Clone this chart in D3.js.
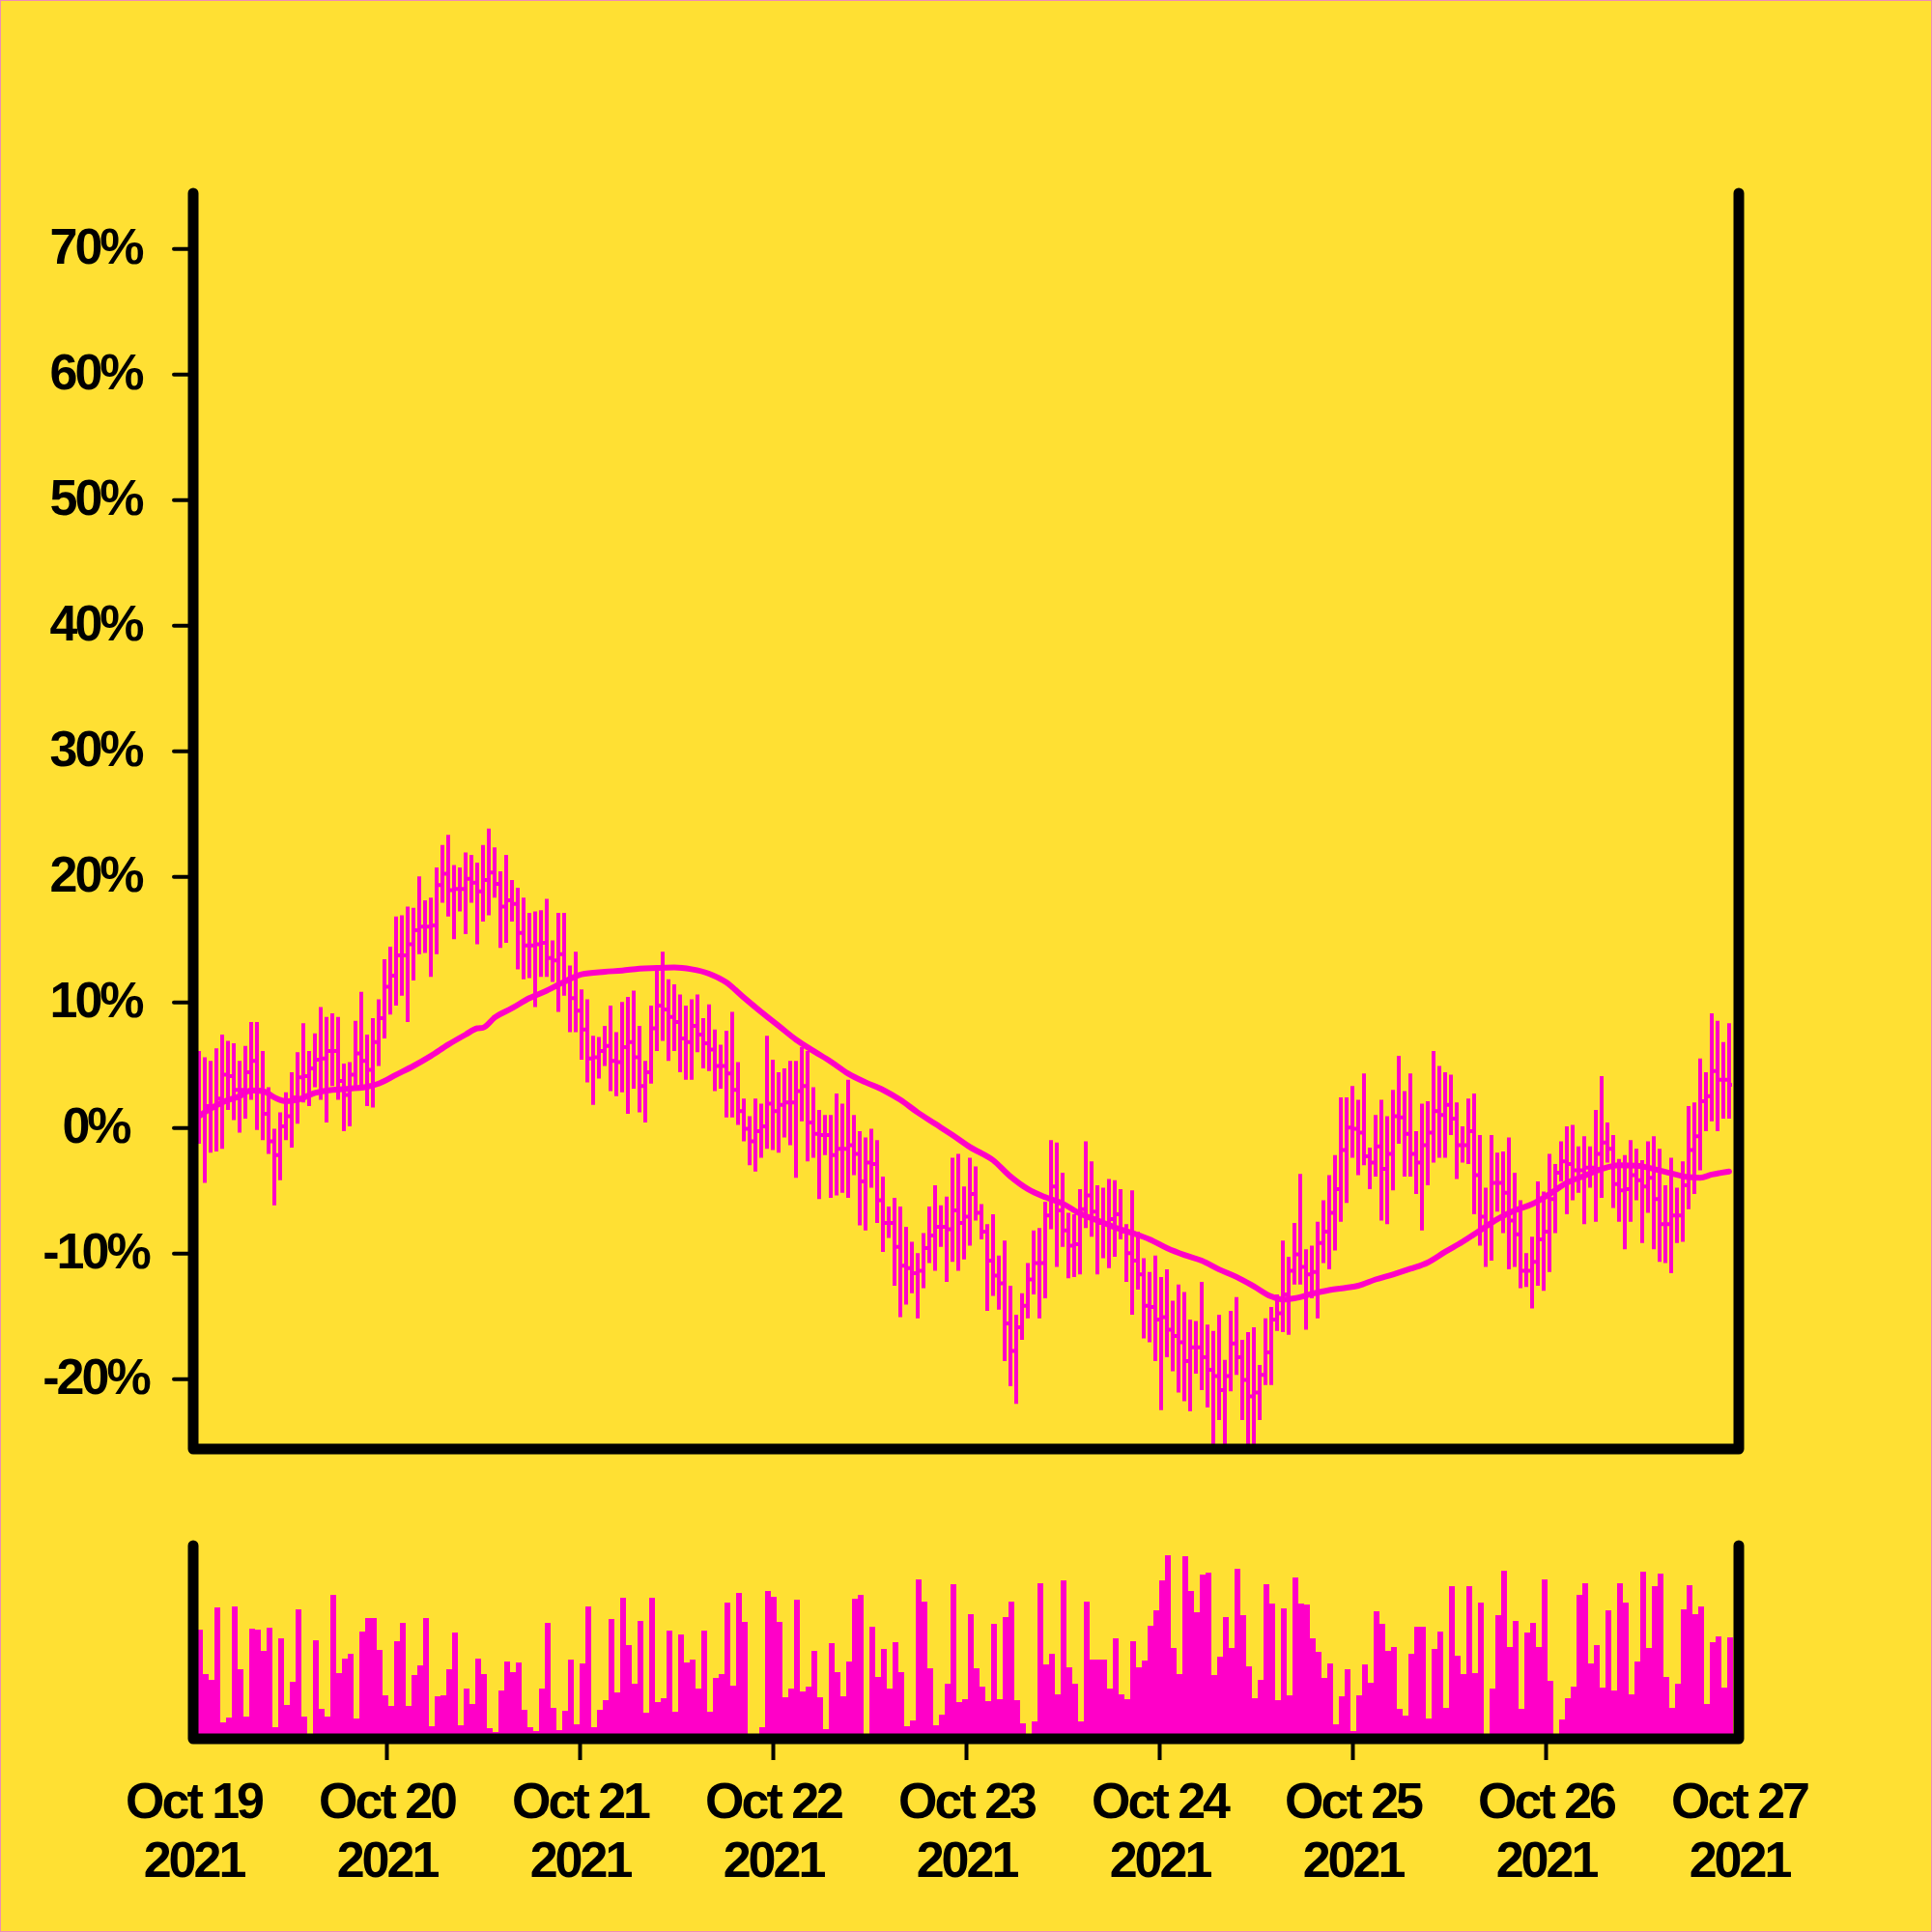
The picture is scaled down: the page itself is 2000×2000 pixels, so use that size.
<!DOCTYPE html>
<html><head><meta charset="utf-8">
<script src="https://cdn.jsdelivr.net/npm/d3@7"></script>
<style>html,body{margin:0;padding:0;background:#FFE033;} svg{display:block}</style>
</head><body>
<svg id="chart" width="2000" height="2000"></svg>
<script>
// ---- DATA (percent change, hourly-ish bars) ----
const high = [
6.1,5.6,5.3,6.3,7.4,6.9,6.7,5.3,6.5,8.4,
8.4,6.1,3.2,-0.1,1.2,2.8,4.4,6.0,8.3,6.1,
7.5,9.6,8.8,9.1,8.8,5.1,5.2,8.5,10.8,7.4,
8.7,10.2,13.4,14.4,16.8,16.9,17.6,17.5,20.0,18.1,
18.3,20.7,22.5,23.3,20.9,20.7,21.9,21.7,21.1,22.5,
23.8,22.3,20.4,21.7,19.7,19.1,18.3,17.1,17.2,17.3,
18.2,14.9,17.1,17.1,12.9,14.0,11.0,10.2,7.3,7.2,
8.1,9.7,7.6,10.0,10.4,10.9,8.1,5.3,9.7,12.5,
14.0,11.8,11.4,10.6,9.7,10.2,10.6,8.7,9.8,7.8,
6.6,7.7,9.2,5.2,2.3,0.9,2.3,1.9,7.3,5.4,
4.4,4.7,5.3,5.3,6.4,6.1,3.2,1.4,1.0,1.0,
2.7,1.9,3.8,1.0,-0.3,-0.8,-0.1,-1.0,-3.9,-6.3,
-5.6,-6.3,-7.9,-9.1,-10.0,-8.4,-6.3,-4.6,-6.2,-5.5,
-2.4,-2.1,-4.7,-2.4,-3.1,-6.1,-7.7,-6.9,-10.2,-9.0,
-12.6,-14.9,-13.2,-10.8,-8.2,-8.0,-5.9,-1.0,-1.2,-3.6,
-6.8,-6.9,-4.9,-1.1,-2.7,-4.6,-4.8,-4.1,-4.2,-4.9,
-7.7,-5.0,-8.3,-10.4,-11.5,-10.2,-11.9,-11.3,-13.8,-12.5,
-13.1,-15.3,-15.4,-12.3,-15.7,-16.2,-14.9,-18.5,-14.6,-13.5,
-16.9,-16.3,-15.9,-18.9,-15.2,-14.3,-13.3,-9.0,-10.3,-7.6,
-3.7,-9.7,-9.4,-7.5,-5.8,-3.8,-2.2,2.4,2.4,3.3,
2.2,4.3,-1.6,1.0,2.2,0.9,3.0,5.7,2.9,4.3,
-0.3,1.9,2.1,6.1,4.9,4.4,4.2,2.0,0.1,2.3,
2.7,-0.6,-4.8,-0.6,-2.0,-1.9,-0.8,-3.6,-5.8,-10.0,
-8.7,-4.3,-5.1,-2.1,-2.9,-1.1,0.1,0.2,-1.5,-0.7,
-1.5,1.4,4.1,0.4,-0.6,-2.5,-2.2,-1.0,-1.7,-2.6,
-1.1,-0.7,-1.7,-4.6,-2.4,-4.8,-2.7,1.7,2.0,5.5,
4.4,9.1,8.5,6.8,8.3];

const low = [
-1.3,-4.4,-2.0,-1.9,-1.7,1.4,0.6,-0.4,0.7,2.2,
-0.2,-1.0,-2.1,-6.2,-4.2,-1.0,-1.6,0.3,2.0,1.7,
3.2,2.2,0.4,3.3,2.2,-0.3,0.1,3.2,3.2,1.7,
1.6,4.9,7.1,9.0,9.7,10.5,8.4,11.7,13.8,13.9,
12.0,13.8,17.9,16.8,15.0,17.2,15.4,17.9,14.6,16.4,
16.9,18.3,14.3,14.7,16.4,12.6,11.8,11.9,9.6,12.0,
12.0,11.6,9.2,10.5,7.6,7.6,5.4,3.6,1.8,3.9,
4.9,2.9,2.5,2.8,1.1,3.1,1.2,0.4,3.5,6.1,
6.9,5.3,6.1,4.4,3.8,3.8,6.0,4.7,4.5,2.9,
3.1,0.8,0.8,0.2,-1.1,-3.0,-3.5,-2.4,-1.7,-1.8,
-2.0,-0.8,-1.4,-4.0,0.5,-2.7,-2.4,-5.7,-2.2,-5.6,
-5.4,-5.2,-5.6,-3.8,-7.8,-8.2,-4.8,-7.6,-9.9,-8.8,
-12.6,-15.1,-14.1,-13.2,-15.2,-12.8,-10.8,-11.4,-9.5,-12.3,
-10.7,-11.4,-10.5,-9.4,-7.4,-8.9,-14.6,-13.4,-14.5,-18.6,
-20.6,-22.0,-16.9,-15.2,-13.3,-15.2,-13.6,-8.1,-11.1,-9.5,
-12.0,-11.9,-11.7,-8.0,-8.7,-11.7,-10.4,-11.2,-10.3,-8.9,
-12.3,-14.9,-12.9,-16.8,-17.1,-18.6,-22.5,-18.3,-19.4,-21.1,
-21.8,-22.6,-19.6,-20.9,-22.3,-27.0,-23.3,-27.5,-21.0,-19.7,
-23.3,-27.0,-26.5,-23.3,-20.5,-20.5,-16.2,-16.3,-16.5,-12.5,
-12.5,-16.1,-13.6,-15.2,-10.8,-11.3,-9.8,-7.5,-6.0,-2.4,
-3.8,-3.0,-4.9,-3.9,-7.4,-7.7,-5.0,-1.3,-3.9,-3.9,
-5.3,-8.2,-4.6,-2.8,-2.4,-2.4,-0.6,-4.1,-2.8,-2.9,
-6.9,-9.4,-11.1,-10.6,-6.7,-8.4,-11.3,-11.1,-12.8,-12.7,
-14.4,-12.6,-13.0,-11.5,-8.4,-4.3,-6.9,-5.8,-5.2,-7.7,
-4.8,-7.5,-5.6,-2.8,-6.4,-7.5,-9.7,-7.5,-5.8,-9.2,
-6.8,-9.7,-10.7,-10.8,-11.6,-9.2,-9.1,-6.5,-5.3,-3.4,
-0.3,0.5,-0.3,0.7,0.7];

const open = [
0.5,1.0,1.7,1.7,2.3,4.2,4.1,3.0,3.0,4.4,
5.3,3.0,1.1,-1.1,-2.2,0.1,0.9,2.4,4.0,4.1,
4.7,5.4,5.5,6.1,6.1,3.7,2.6,4.2,5.9,5.3,
4.6,6.8,8.7,11.2,12.1,13.7,13.7,14.6,15.7,16.0,
16.0,16.1,19.3,20.2,18.9,19.0,19.0,19.8,19.5,18.8,
19.7,20.3,19.4,17.6,18.1,17.8,15.5,14.5,14.5,14.6,
14.7,13.5,13.3,13.8,11.7,10.3,9.3,7.8,5.5,5.6,
6.1,6.5,5.3,5.2,6.4,6.8,5.6,3.3,4.4,7.9,
9.7,9.4,8.8,8.4,7.1,6.8,8.1,7.4,6.7,6.2,
4.9,4.9,4.3,3.0,1.3,-0.1,-1.1,-0.3,0.1,1.9,
1.3,1.8,2.0,2.0,2.9,3.3,0.4,-0.5,-0.6,-0.6,
-2.2,-1.7,-1.7,-1.4,-2.1,-4.3,-2.8,-2.9,-5.8,-7.6,
-7.6,-9.5,-11.0,-11.2,-11.6,-11.4,-9.6,-8.6,-7.9,-7.9,
-8.1,-6.6,-7.6,-7.1,-5.3,-6.8,-8.3,-10.6,-11.8,-12.4,
-15.6,-17.8,-15.9,-14.2,-12.1,-10.8,-10.8,-7.0,-4.7,-6.6,
-8.2,-9.4,-9.3,-6.5,-5.4,-6.7,-7.6,-7.6,-7.3,-6.9,
-8.3,-10.0,-10.6,-11.7,-14.2,-14.3,-15.3,-15.1,-16.1,-16.6,
-17.1,-18.6,-17.5,-17.5,-18.3,-19.3,-19.8,-20.9,-19.8,-17.2,
-18.3,-20.1,-21.4,-21.1,-19.7,-17.9,-15.3,-14.8,-13.3,-11.4,
-10.1,-11.1,-11.7,-11.5,-9.2,-8.3,-6.8,-4.9,-1.8,0.0,
-0.1,-0.4,-2.3,-2.8,-1.5,-3.3,-2.1,0.9,0.8,-0.5,
-2.1,-2.8,-1.4,-0.4,1.3,1.0,1.8,0.7,-1.4,-1.4,
-0.3,-3.8,-7.1,-7.7,-4.4,-4.4,-5.2,-7.4,-8.5,-11.4,
-11.4,-10.7,-8.9,-8.3,-5.7,-3.6,-2.7,-2.9,-3.4,-3.4,
-3.2,-3.2,-2.1,-1.2,-1.7,-4.5,-5.0,-4.9,-3.8,-4.2,
-4.7,-4.0,-5.7,-7.7,-7.7,-7.0,-7.0,-4.6,-1.8,-0.7,
2.1,2.5,4.5,3.8,3.8];

const close = [
1.0,1.7,1.7,2.3,4.2,4.1,3.0,3.0,4.4,5.3,
3.0,1.1,-1.1,-2.2,0.1,0.9,2.4,4.0,4.1,4.7,
5.4,5.5,6.1,6.1,3.7,2.6,4.2,5.9,5.3,4.6,
6.8,8.7,11.2,12.1,13.7,13.7,14.6,15.7,16.0,16.0,
16.1,19.3,20.2,18.9,19.0,19.0,19.8,19.5,18.8,19.7,
20.3,19.4,17.6,18.1,17.8,15.5,14.5,14.5,14.6,14.7,
13.5,13.3,13.8,11.7,10.3,9.3,7.8,5.5,5.6,6.1,
6.5,5.3,5.2,6.4,6.8,5.6,3.3,4.4,7.9,9.7,
9.4,8.8,8.4,7.1,6.8,8.1,7.4,6.7,6.2,4.9,
4.9,4.3,3.0,1.3,-0.1,-1.1,-0.3,0.1,1.9,1.3,
1.8,2.0,2.0,2.9,3.3,0.4,-0.5,-0.6,-0.6,-2.2,
-1.7,-1.7,-1.4,-2.1,-4.3,-2.8,-2.9,-5.8,-7.6,-7.6,
-9.5,-11.0,-11.2,-11.6,-11.4,-9.6,-8.6,-7.9,-7.9,-8.1,
-6.6,-7.6,-7.1,-5.3,-6.8,-8.3,-10.6,-11.8,-12.4,-15.6,
-17.8,-15.9,-14.2,-12.1,-10.8,-10.8,-7.0,-4.7,-6.6,-8.2,
-9.4,-9.3,-6.5,-5.4,-6.7,-7.6,-7.6,-7.3,-6.9,-8.3,
-10.0,-10.6,-11.7,-14.2,-14.3,-15.3,-15.1,-16.1,-16.6,-17.1,
-18.6,-17.5,-17.5,-18.3,-19.3,-19.8,-20.9,-19.8,-17.2,-18.3,
-20.1,-21.4,-21.1,-19.7,-17.9,-15.3,-14.8,-13.3,-11.4,-10.1,
-11.1,-11.7,-11.5,-9.2,-8.3,-6.8,-4.9,-1.8,0.0,-0.1,
-0.4,-2.3,-2.8,-1.5,-3.3,-2.1,0.9,0.8,-0.5,-2.1,
-2.8,-1.4,-0.4,1.3,1.0,1.8,0.7,-1.4,-1.4,-0.3,
-3.8,-7.1,-7.7,-4.4,-4.4,-5.2,-7.4,-8.5,-11.4,-11.4,
-10.7,-8.9,-8.3,-5.7,-3.6,-2.7,-2.9,-3.4,-3.4,-3.2,
-3.2,-2.1,-1.2,-1.7,-4.5,-5.0,-4.9,-3.8,-4.2,-4.7,
-4.0,-5.7,-7.7,-7.7,-7.0,-7.0,-4.6,-1.8,-0.7,2.1,
2.5,4.5,3.8,3.8,3.4];

const volume = [
113,67,61,136,17,22,137,72,23,114,
113,91,115,12,104,35,59,134,23,5,
102,31,23,149,68,83,88,21,111,125,
125,92,45,34,101,120,34,66,76,125,
13,44,45,72,110,14,52,36,83,67,
11,7,50,80,69,79,30,12,8,52,
120,32,9,29,82,15,78,137,12,30,
40,124,48,146,97,57,122,27,146,38,
42,112,28,108,79,82,52,112,28,63,
67,141,55,151,121,3,3,12,153,147,
121,43,52,144,49,54,91,43,10,99,
69,44,80,145,149,3,116,64,93,52,
100,69,13,19,165,142,73,14,25,57,
160,38,41,129,73,54,39,119,41,126,
142,40,16,3,18,161,77,88,46,164,
74,57,18,142,82,82,82,52,104,46,
41,101,74,81,117,133,164,190,94,67,
189,153,131,170,172,66,85,126,94,176,
128,75,42,61,160,140,40,135,45,167,
140,139,104,90,63,78,15,44,72,8,
45,77,58,132,119,91,95,31,24,88,
116,116,21,93,111,32,158,86,67,158,
68,141,3,52,128,174,95,122,31,110,
120,95,165,60,3,20,42,54,149,161,
78,97,53,133,50,161,141,46,80,173,
94,158,171,64,32,57,134,159,129,137,
36,100,106,53,105];

// moving average, read at selected bar indices
const maIndex = [0,2,4,7,9,11,13,15,17,20,23,26,29,31,34,37,40,43,46,48,49,51,54,57,60,63,66,70,73,76,79,82,85,88,91,94,97,100,103,106,109,112,115,118,121,124,127,130,133,137,140,143,146,149,152,155,158,161,164,167,170,173,176,179,182,185,187,189,192,195,198,200,203,206,209,212,215,218,221,224,227,230,233,236,239,242,245,248,251,254,257,259,261,264];
const maValue = [0.9,1.5,2.0,2.5,2.95,2.9,2.4,2.1,2.2,2.75,3.0,3.1,3.25,3.5,4.2,4.9,5.7,6.6,7.4,7.9,7.95,8.75,9.5,10.3,10.9,11.6,12.2,12.4,12.5,12.65,12.7,12.75,12.6,12.25,11.55,10.35,9.2,8.1,7.0,6.1,5.25,4.3,3.6,3.0,2.2,1.2,0.3,-0.6,-1.55,-2.6,-3.9,-4.9,-5.55,-6.05,-6.85,-7.4,-7.95,-8.4,-8.9,-9.6,-10.15,-10.6,-11.3,-11.9,-12.65,-13.45,-13.7,-13.6,-13.25,-12.95,-12.75,-12.6,-12.1,-11.7,-11.25,-10.75,-9.9,-9.1,-8.2,-7.3,-6.6,-6.1,-5.3,-4.4,-3.85,-3.3,-3.0,-3.05,-3.3,-3.65,-3.95,-4.0,-3.75,-3.5];

const yTicks = [-20,-10,0,10,20,30,40,50,60,70];
const dayTicks = ["2021-10-19","2021-10-20","2021-10-21","2021-10-22","2021-10-23","2021-10-24","2021-10-25","2021-10-26","2021-10-27"];

// ---- STYLE ----
const BG = "#FFE033", MAG = "#FF00C8", INK = "#000000";
const FONT = "'Liberation Sans', Arial, Helvetica, sans-serif";

// bar timestamps: regular 43.2-minute sampling starting Oct 19
const startMs = Date.UTC(2021, 9, 19, 0, 43, 12);
const stepMs = 43.2 * 60 * 1000;
const times = high.map((_, i) => new Date(startMs + i * stepMs));
const tickDates = dayTicks.map(s => new Date(s + "T00:00:00Z"));

const L = 200, R = 1800, T = 200, B = 1500, VT = 1600, VB = 1800;

const x = d3.scaleUtc().domain([tickDates[0], tickDates[tickDates.length - 1]]).range([L, R]);
const y = d3.scaleLinear().domain([-25.6, 74.4]).range([B, T]);
const yv = d3.scaleLinear().domain([0, 200]).range([VB, VT]);

const svg = d3.select("#chart");
svg.append("rect").attr("width", 2000).attr("height", 2000).attr("fill", BG);
svg.append("rect").attr("x", 0.5).attr("y", 0.5).attr("width", 1999).attr("height", 1999)
  .attr("fill", "none").attr("stroke", "#F08CB4").attr("stroke-width", 1);

const defs = svg.append("defs");
defs.append("clipPath").attr("id", "clipP").append("rect").attr("x", L).attr("y", T).attr("width", R - L).attr("height", B - T);
defs.append("clipPath").attr("id", "clipV").append("rect").attr("x", L).attr("y", VT).attr("width", R - L).attr("height", VB - VT);

// OHLC bars
const n = high.length;
const gP = svg.append("g").attr("clip-path", "url(#clipP)");
gP.selectAll("path.ohlc").data(d3.range(n)).join("path")
  .attr("class", "ohlc")
  .attr("fill", "none").attr("stroke", MAG).attr("stroke-width", 4)
  .attr("d", i => {
    const cx = Math.round(x(times[i]));
    return `M${cx},${y(high[i])}V${y(low[i])}M${cx - 3},${y(open[i])}H${cx}M${cx},${y(close[i])}H${cx + 3}`;
  });

// moving average line
const maPts = maIndex.map((idx, k) => ({ t: times[idx], v: maValue[k] }));
gP.append("path").datum(maPts)
  .attr("fill", "none").attr("stroke", MAG).attr("stroke-width", 6)
  .attr("stroke-linejoin", "round").attr("stroke-linecap", "round")
  .attr("d", d3.line().x(d => x(d.t)).y(d => y(d.v)).curve(d3.curveMonotoneX));

// volume bars
const gV = svg.append("g").attr("clip-path", "url(#clipV)");
gV.selectAll("rect").data(d3.range(n)).join("rect")
  .attr("x", i => x(times[i]) - 2)
  .attr("width", 6)
  .attr("y", i => yv(volume[i]))
  .attr("height", i => yv(0) - yv(volume[i]))
  .attr("fill", MAG);

// y axis (price)
const yAxis = svg.append("g").attr("transform", `translate(${L},0)`)
  .call(d3.axisLeft(y).tickValues(yTicks).tickSize(20).tickFormat(d => d + "%"));
yAxis.select(".domain").remove();
yAxis.selectAll(".tick line").attr("stroke", INK).attr("stroke-width", 4).attr("stroke-linecap", "round");
yAxis.selectAll(".tick text")
  .attr("x", -101).attr("dy", 15.6).attr("text-anchor", "middle")
  .attr("fill", INK).style("font-family", FONT).style("font-weight", "bold")
  .style("font-size", "52px").style("letter-spacing", "-3px");

// x axis (dates), below volume panel
const xAxis = svg.append("g").attr("transform", `translate(0,${VB})`)
  .call(d3.axisBottom(x).tickValues(tickDates).tickSize(22).tickFormat(""));
xAxis.select(".domain").remove();
xAxis.selectAll(".tick line").attr("stroke", INK).attr("stroke-width", 4)
  .attr("display", (d, i) => (i === 0 || i === tickDates.length - 1) ? "none" : null);
const fmtMD = d3.utcFormat("%b %-d"), fmtY = d3.utcFormat("%Y");
xAxis.selectAll(".tick").each(function (d) {
  const t = d3.select(this).select("text");
  t.attr("y", null).attr("dy", null).text(null)
    .attr("fill", INK).attr("text-anchor", "middle")
    .style("font-family", FONT).style("font-weight", "bold")
    .style("font-size", "52px").style("letter-spacing", "-3px");
  t.append("tspan").attr("x", 0).attr("y", 82).text(fmtMD(d));
  t.append("tspan").attr("x", 0).attr("y", 143).text(fmtY(d));
});

// panel frames (left, bottom, right)
const frame = (top, bot) => `M${L},${top}V${bot}H${R}V${top}`;
svg.append("path").attr("d", frame(T, B)).attr("fill", "none").attr("stroke", INK)
  .attr("stroke-width", 11).attr("stroke-linecap", "round").attr("stroke-linejoin", "round");
svg.append("path").attr("d", frame(VT, VB)).attr("fill", "none").attr("stroke", INK)
  .attr("stroke-width", 11).attr("stroke-linecap", "round").attr("stroke-linejoin", "round");
</script>
</body></html>
